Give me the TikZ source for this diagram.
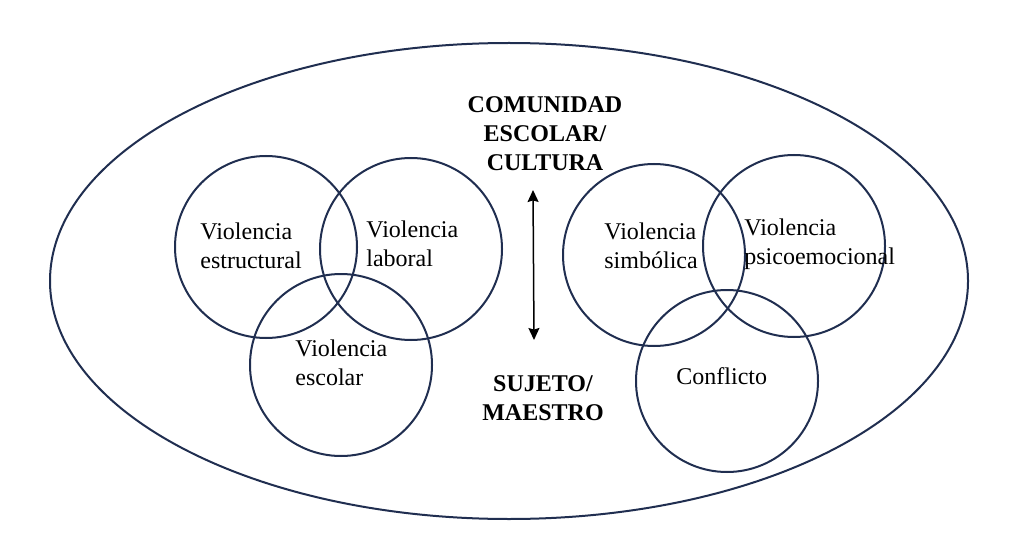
\documentclass[tikz,border=0pt]{standalone}
\usepackage{fontspec}
\setmainfont{Liberation Serif}
\usetikzlibrary{arrows.meta}
\definecolor{ringblue}{RGB}{32,46,80}

\begin{document}
\begin{tikzpicture}[x=0.5pt,y=-0.5pt,
  ring/.style={circle,draw=ringblue,line width=1pt,minimum size=91pt,inner sep=0pt},
  lbl/.style={font=\fontsize{12}{14.5}\selectfont,align=left,anchor=west,inner sep=0pt},
  hdr/.style={font=\fontsize{12}{14.5}\selectfont\bfseries,align=center,inner sep=0pt}]
\useasboundingbox (0,0) rectangle (1021,534);
% outer ellipse
\draw[ringblue,line width=1pt] (509,281) ellipse [x radius=459, y radius=238];
% left group of rings
\node[ring] (estr) at (266,247) {};
\node[ring] (labo) at (411,249) {};
\node[ring] (esco) at (341,365) {};
% right group of rings
\node[ring] (simb) at (654,255) {};
\node[ring] (psic) at (794,246) {};
\node[ring] (conf) at (727,381) {};
% labels inside the rings
\node[lbl] (testr) at (200,246) {Violencia\\estructural};
\node[lbl] (tlabo) at (366,244) {Violencia\\laboral};
\node[lbl] (tesco) at (295,363) {Violencia\\escolar};
\node[lbl] (tsimb) at (604,246) {Violencia\\simbólica};
\node[lbl] (tpsic) at (744,244) {Violencia\\psicoemocional};
\node[lbl] (tconf) at (676,376) {Conflicto};
% the two poles and the arrow between them
\node[hdr] (cult) at (545,134) {COMUNIDAD\\ESCOLAR/\\CULTURA};
\node[hdr] (suje) at (543,398) {SUJETO/\\MAESTRO};
\coordinate (up) at (533,190);
\coordinate (dn) at (534,340);
\draw[line width=0.75pt,{Stealth[length=6pt,width=5.5pt,inset=0.8pt]}-{Stealth[length=6pt,width=5.5pt,inset=0.8pt]}] (up) -- (dn);
\end{tikzpicture}
\end{document}
